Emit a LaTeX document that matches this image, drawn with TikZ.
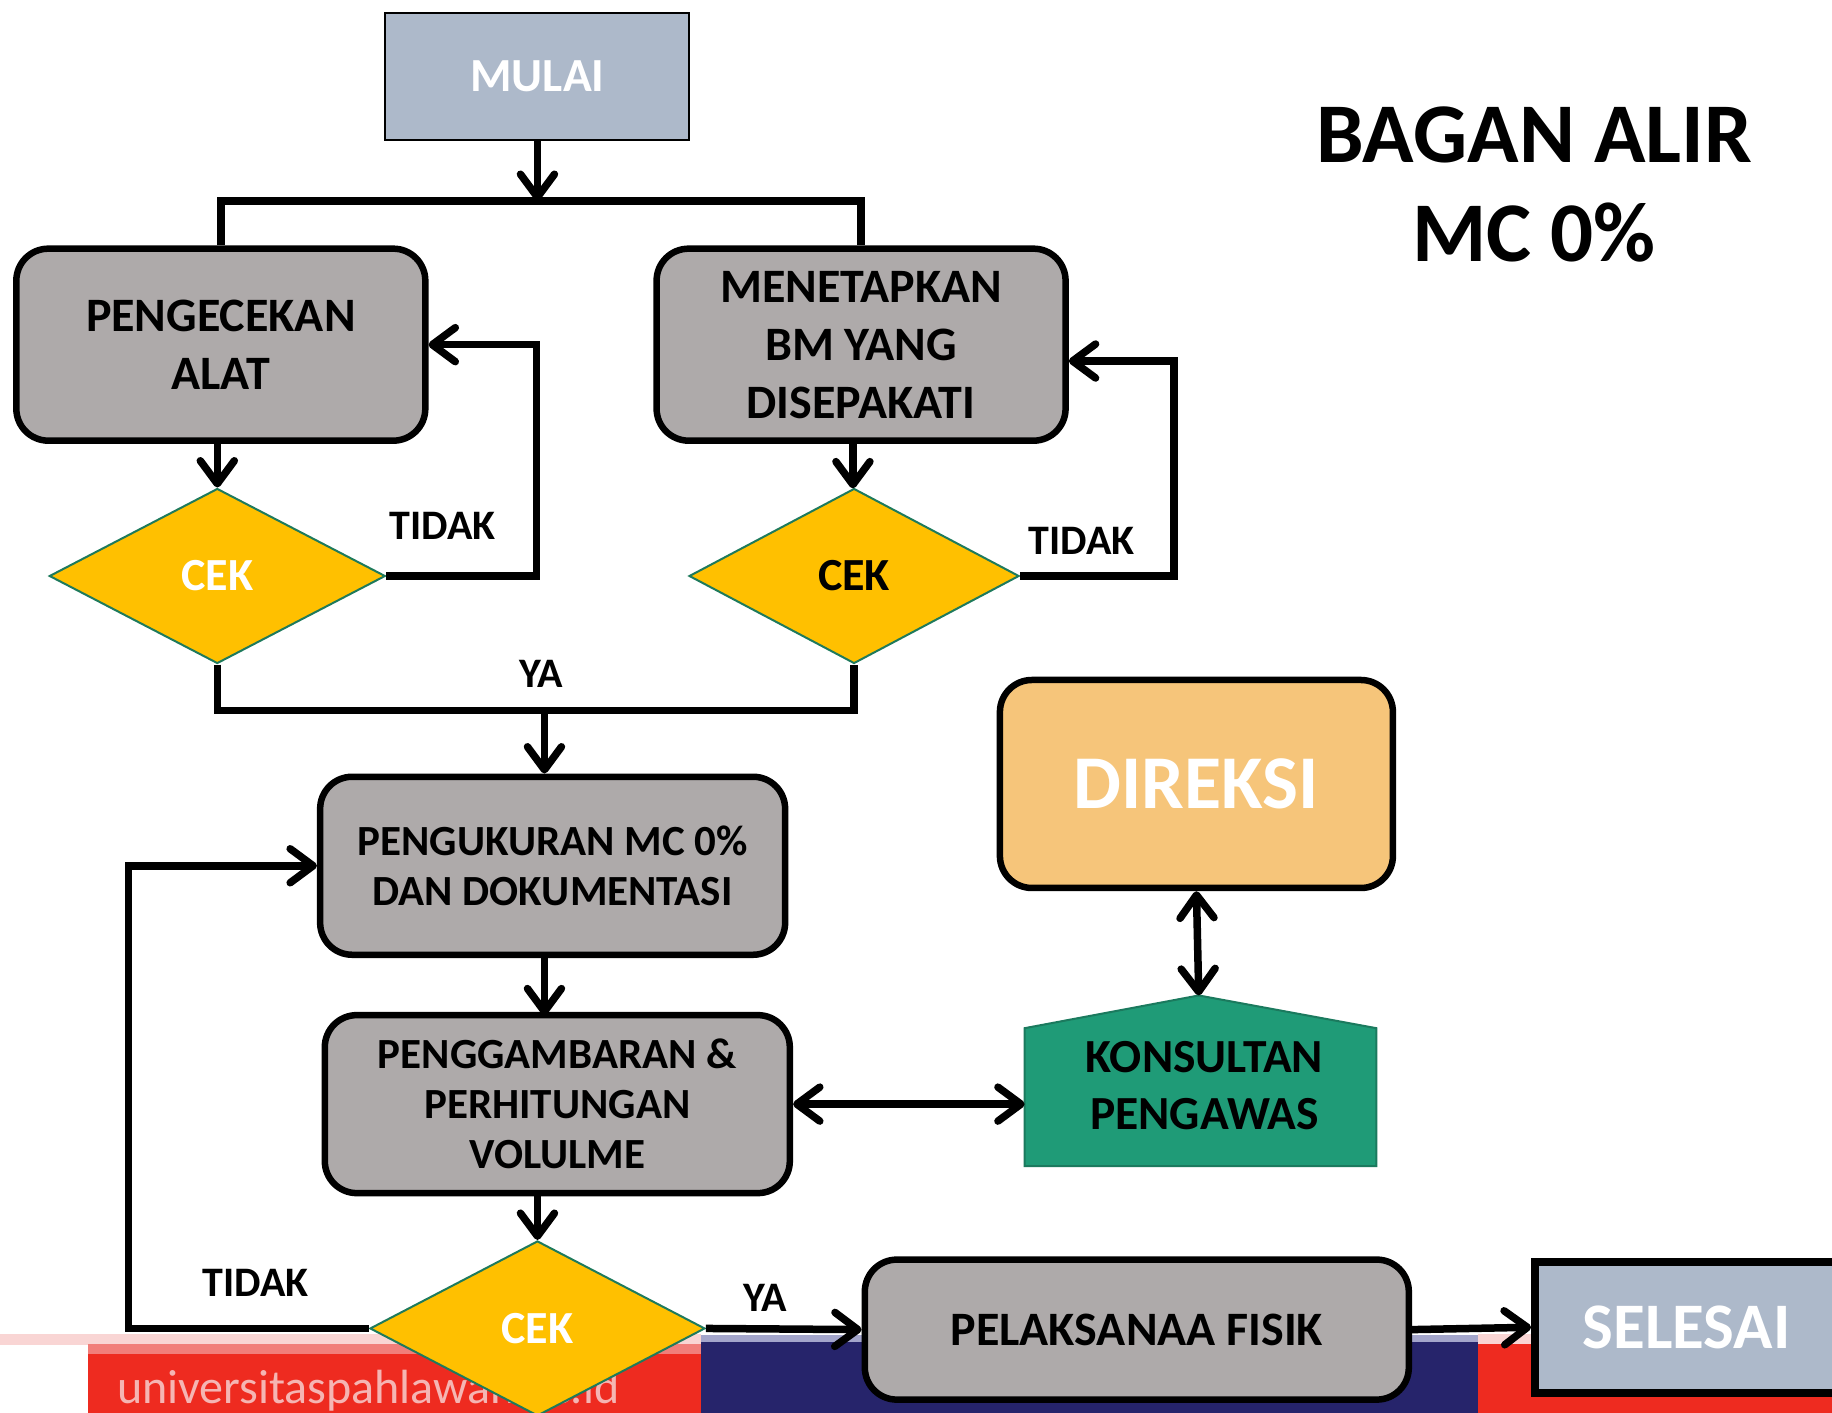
\documentclass[tikz,border=0pt]{standalone}
\usepackage{fontspec}
\setmainfont{Carlito}
\usetikzlibrary{shapes.geometric,arrows.meta,calc}

\definecolor{boxgray}{HTML}{AEAAAA}
\definecolor{bluegray}{HTML}{ADB9CA}
\definecolor{gold}{HTML}{FFC000}
\definecolor{dteal}{HTML}{1E7A5C}
\definecolor{konsgreen}{HTML}{1F9B77}
\definecolor{konsedge}{HTML}{1B7A5E}
\definecolor{direksiorange}{HTML}{F6C57A}
\definecolor{bandred}{HTML}{EE2B20}
\definecolor{bandpink}{HTML}{F2A2A0}
\definecolor{bandnavy}{HTML}{26246B}
\definecolor{bandlav}{HTML}{A3A5CB}

\begin{document}
\begin{tikzpicture}[x=1.1684pt,y=-1.1684pt,
  >={Straight Barb[length=23pt,width=34pt,line cap=round,line join=round]},
  conn/.style={line width=7.5pt},
  flowbox/.style={draw=black,line width=6.5pt,fill=boxgray,rounded corners=32pt,
    align=center,inner sep=0pt},
  decision/.style={diamond,draw=dteal,line width=2pt,fill=gold,inner sep=0pt,
    font=\bfseries\fontsize{46}{55}\selectfont},
  lbl/.style={font=\bfseries\fontsize{42}{50}\selectfont,inner sep=0pt}]

\clip (0,0) rectangle (1568,1209);
\fill[white] (0,0) rectangle (1568,1209);

% footer bands of the slide
\fill[bandpink!45] (0,1142) rectangle (600,1151);
\fill[bandred] (75,1150) rectangle (600,1209);
\fill[bandpink!70!bandred] (75,1150) rectangle (600,1159);
\fill[bandlav] (600,1143) rectangle (1265,1149);
\fill[bandnavy] (600,1149) rectangle (1265,1209);
\fill[bandpink!45] (1265,1142) rectangle (1568,1151);
\fill[bandred] (1265,1150) rectangle (1568,1209);
\node[anchor=base west,inner sep=0pt,text=bandpink!80!white,font=\fontsize{48}{52}\selectfont]
  (footer) at (100,1201) {universitaspahlawan.ac.id};

% title
\node[font=\bfseries\fontsize{85}{99}\selectfont,align=center,inner sep=0pt]
  (title) at (1313,158) {BAGAN ALIR\\MC 0\%};

% start and end
\node[draw=black,line width=2pt,fill=bluegray,minimum width=304pt,minimum height=127pt,
  inner sep=0pt,text=white,font=\bfseries\fontsize{47.5}{55}\selectfont]
  (mulai) at (460,65.5) {MULAI};
\node[draw=black,line width=8pt,fill=bluegray,minimum width=311pt,minimum height=131pt,
  inner sep=0pt,text=white,font=\bfseries\fontsize{65}{70}\selectfont]
  (selesai) at (1447,1136) {\hspace*{-4pt}SELESAI\hspace*{4pt}};

% process boxes
\node[flowbox,minimum width=409pt,minimum height=192pt,
  font=\bfseries\fontsize{48}{58}\selectfont] (cekalat) at (189,295) {PENGECEKAN\\ALAT};
\node[flowbox,minimum width=409pt,minimum height=192pt,
  font=\bfseries\fontsize{48}{58}\selectfont] (bm) at (737,295) {MENETAPKAN\\BM YANG\\DISEPAKATI};
\node[flowbox,minimum width=465pt,minimum height=178pt,
  font=\bfseries\fontsize{43}{50}\selectfont] (ukur) at (473,741) {PENGUKURAN MC 0\%\\DAN DOKUMENTASI};
\node[flowbox,minimum width=465pt,minimum height=178pt,
  font=\bfseries\fontsize{43}{50}\selectfont] (gambar) at (477,945) {PENGGAMBARAN \&\\PERHITUNGAN\\VOLULME};
\node[flowbox,minimum width=544pt,minimum height=140pt,
  font=\bfseries\fontsize{48}{52}\selectfont] (fisik) at (973,1138) {PELAKSANAA FISIK};
\node[flowbox,fill=direksiorange,minimum width=393pt,minimum height=208pt,text=white,
  font=\bfseries\fontsize{76}{80}\selectfont] (direksi) at (1024,671) {DIREKSI};

% supervising consultant
\fill[konsgreen,draw=konsedge,line width=2pt]
  (877,880) -- (1026,852) -- (1178,880) -- (1178,998) -- (877,998) -- cycle;
\node[font=\bfseries\fontsize{47.5}{57}\selectfont,align=center,inner sep=0pt]
  (kons) at (1031,929) {KONSULTAN\\PENGAWAS};
\coordinate (konsW) at (877,945);
\coordinate (konsN) at (1026,852);

% decisions
\node[decision,minimum width=336pt,minimum height=175pt,text=white] (cek1) at (186,493) {CEK};
\node[decision,minimum width=330pt,minimum height=175pt,text=black] (cek2) at (731,493) {CEK};
\node[decision,minimum width=335pt,minimum height=175pt,text=white] (cek3) at (460,1137) {CEK};

% connectors
\coordinate (split) at (460,172);
\draw[conn,->] (mulai.south) -- (split);
\draw[conn] (cekalat.north) |- (split) -| (bm.north);

\draw[conn,->] (cek1.north |- cekalat.south) -- (cek1.north);
\draw[conn,->] (730,377) -- (730,418);

\coordinate (loop1) at (459,400);
\draw[conn,->] (cek1.east) -| (loop1) |- (cekalat.east);
\coordinate (loop2) at (1005,400);
\draw[conn,->] (cek2.east) -| (loop2) |- ($(bm.east)+(0,14)$);

\coordinate (join) at (466,608);
\draw[conn] (cek1.south) |- (join) -| (cek2.south);
\draw[conn,->] (join) -- (join |- ukur.north);

\draw[conn,->] (466,817) -- (466,869);
\draw[conn,->] (cek3.north |- gambar.south) -- (cek3.north);

\coordinate (loop3) at (110,900);
\draw[conn,->] (cek3.west) -| (loop3) |- (ukur.west);

\draw[conn,->] (cek3.east) -- (fisik.west);
\draw[conn,->] (fisik.east) -- (selesai.west);

\draw[conn,<->] (gambar.east) -- (konsW);
\draw[conn,<->] (direksi.south) -- (konsN);

% branch labels
\node[lbl] (tidak1) at (379,450) {TIDAK};
\node[lbl] (tidak2) at (926,463) {TIDAK};
\node[lbl] (tidak3) at (219,1098) {TIDAK};
\node[lbl] (ya1) at (463,577) {YA};
\node[lbl] (ya2) at (655,1111) {YA};
\end{tikzpicture}
\end{document}
